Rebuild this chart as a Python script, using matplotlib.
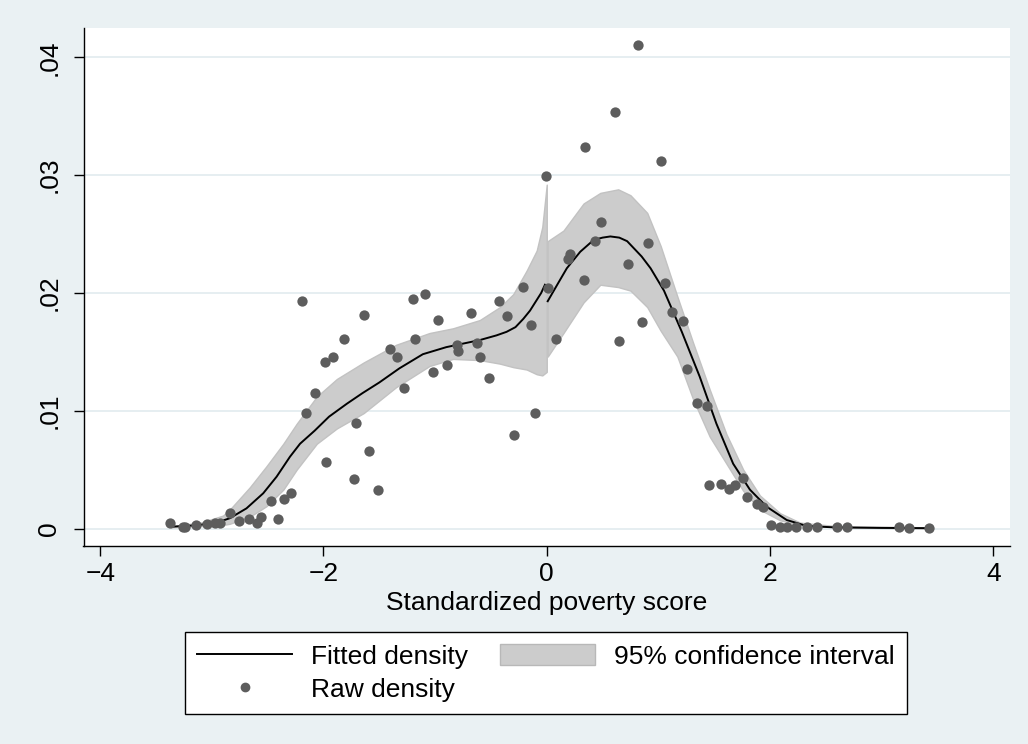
import numpy as np
import matplotlib
matplotlib.use("Agg")
import matplotlib.pyplot as plt
from matplotlib.lines import Line2D
from matplotlib.patches import Patch

plt.rcParams['font.family'] = ['Liberation Sans', 'DejaVu Sans']

# raw density points
raw_x = [-3.371, -3.258, -3.243, -3.138, -3.048, -2.974, -2.929, -2.839, -2.756, -2.666,
         -2.595, -2.561, -2.474, -2.412, -2.353, -2.292, -2.197, -2.158, -2.078, -1.979,
         -1.988, -1.919, -1.817, -1.725, -1.710, -1.635, -1.590, -1.510, -1.405, -1.345,
         -1.277, -1.196, -1.181, -1.091, -1.022, -0.978, -0.891, -0.807, -0.793, -0.679,
         -0.622, -0.598, -0.518, -0.425, -0.354, -0.294, -0.210, -0.144, -0.105, -0.007,
         0.0085, 0.083, 0.193, 0.208, 0.334, 0.346, 0.432, 0.483, 0.615, 0.645,
         0.731, 0.821, 0.854, 0.905, 1.021, 1.060, 1.120, 1.224, 1.254, 1.344,
         1.439, 1.454, 1.559, 1.636, 1.687, 1.756, 1.798, 1.887, 1.935, 2.007,
         2.091, 2.151, 2.234, 2.330, 2.420, 2.604, 2.694, 3.157, 3.247, 3.426]
raw_y = [0.00044, 0.00015, 0.00010, 0.00030, 0.00038, 0.00044, 0.00049, 0.00129, 0.00066, 0.00078,
         0.00044, 0.00095, 0.00233, 0.00078, 0.00248, 0.00304, 0.01931, 0.00978, 0.01148, 0.00567,
         0.01416, 0.01453, 0.01606, 0.00418, 0.00893, 0.01815, 0.00658, 0.00327, 0.01521, 0.01453,
         0.01190, 0.01948, 0.01606, 0.01988, 0.01329, 0.01767, 0.01390, 0.01558, 0.01507, 0.01832,
         0.01572, 0.01453, 0.01275, 0.01934, 0.01804, 0.00794, 0.02048, 0.01725, 0.00983, 0.02992,
         0.02044, 0.01606, 0.02285, 0.02330, 0.02110, 0.03241, 0.02441, 0.02605, 0.03538, 0.01592,
         0.02245, 0.04105, 0.01753, 0.02426, 0.03120, 0.02087, 0.01840, 0.01761, 0.01351, 0.01063,
         0.01043, 0.00369, 0.00378, 0.00333, 0.00369, 0.00426, 0.00265, 0.00208, 0.00180, 0.00033,
         0.00012, 0.00012, 0.00010, 0.00010, 0.00010, 0.00010, 0.00012, 0.00010, 0.00008, 0.00008]

# fitted density, left and right of the cutoff
fit_lx = [-3.37, -3.14, -2.96, -2.84, -2.69, -2.54, -2.42, -2.30, -2.21, -2.08, -1.95,
          -1.79, -1.65, -1.50, -1.32, -1.11, -0.90, -0.75, -0.60, -0.45, -0.36, -0.28, -0.21,
          -0.15, -0.09, -0.05, -0.016]
fit_ly = [0.00015, 0.00027, 0.00049, 0.00087, 0.00171, 0.00299, 0.0044, 0.0061, 0.0072, 0.0083, 0.0095,
          0.0106, 0.0115, 0.0124, 0.0136, 0.0148, 0.0154, 0.0157, 0.0160, 0.0164, 0.0167, 0.0171, 0.0178,
          0.0185, 0.0194, 0.0200, 0.0207]
fit_rx = [0.0085, 0.10, 0.18, 0.30, 0.42, 0.50, 0.57, 0.65, 0.72, 0.85, 0.93, 1.05, 1.21, 1.37,
          1.52, 1.67, 1.82, 1.97, 2.15, 2.33, 2.57, 3.00, 3.43]
fit_ry = [0.0193, 0.0208, 0.0221, 0.0235, 0.0245, 0.0247, 0.0248, 0.0247, 0.0244, 0.0231, 0.0221, 0.0202,
          0.0167, 0.0129, 0.0089, 0.0055, 0.0033, 0.00185, 0.00072, 0.00021, 0.0001, 0.00005, 0.00003]

# 95% confidence band
ci_lx = [-3.37, -3.10, -2.90, -2.84, -2.66, -2.51, -2.36, -2.24, -2.06, -1.88, -1.64,
         -1.35, -1.05, -0.84, -0.60, -0.42, -0.30, -0.18, -0.09, -0.04, 0.0]
ci_lhi = [0.0002, 0.0005, 0.0011, 0.0016, 0.0035, 0.0053, 0.0072, 0.0089, 0.0112, 0.0127, 0.0141,
          0.0156, 0.0166, 0.0170, 0.0177, 0.0188, 0.0199, 0.0219, 0.0236, 0.0256, 0.0292]
ci_llo = [0.0001, 0.0002, 0.0003, 0.0004, 0.0010, 0.0019, 0.0033, 0.0050, 0.0072, 0.0085, 0.0098,
          0.0120, 0.0138, 0.0144, 0.0143, 0.0140, 0.0137, 0.0135, 0.0131, 0.0130, 0.0133]
ci_rx = [0.0085, 0.15, 0.33, 0.48, 0.64, 0.75, 0.90, 1.02, 1.17, 1.31, 1.46, 1.61,
         1.76, 1.91, 2.09, 2.27, 2.60, 3.43]
ci_rhi = [0.0244, 0.0253, 0.0276, 0.0285, 0.0288, 0.0283, 0.0268, 0.0240, 0.0197, 0.0158, 0.0118, 0.0080,
          0.0050, 0.0028, 0.0013, 0.0005, 0.0002, 0.0001]
ci_rlo = [0.0146, 0.0166, 0.0192, 0.0207, 0.0205, 0.0202, 0.0188, 0.0168, 0.0146, 0.0110, 0.0078, 0.0055,
          0.0032, 0.0016, 0.0007, 0.0003, 0.0001, 0.0]

xticks = [-4, -2, 0, 2, 4]
xtick_labels = ['\u22124', '\u22122', '0', '2', '4']
yticks = [0, 0.01, 0.02, 0.03, 0.04]
ytick_labels = ['0', '.01', '.02', '.03', '.04']

bg = '#eaf1f3'
band_col = '#cccccc'
dot_col = '#5d5d5d'
fs = 19

fig = plt.figure(figsize=(10.28, 7.44), dpi=100, facecolor=bg)
ax = fig.add_axes([83.5 / 1028, (744 - 545.7) / 744, (1010 - 83.5) / 1028, (545.7 - 28) / 744])
ax.set_facecolor('white')

ax.fill_between(ci_lx, ci_llo, ci_lhi, facecolor=band_col, edgecolor='#c2c2c2', linewidth=1, zorder=1)
ax.fill_between(ci_rx, ci_rlo, ci_rhi, facecolor=band_col, edgecolor='#c2c2c2', linewidth=1, zorder=1)
ax.plot(fit_lx, fit_ly, color='black', linewidth=1.4, zorder=3)
ax.plot(fit_rx, fit_ry, color='black', linewidth=1.4, zorder=3)
ax.scatter(raw_x, raw_y, s=55, color=dot_col, linewidths=0, zorder=4)

ax.set_xlim(-4.15, 4.15)
ax.set_ylim(-0.00146, 0.0425)
ax.set_xticks(xticks)
ax.set_xticklabels(xtick_labels)
ax.set_yticks(yticks)
ax.set_yticklabels(ytick_labels, rotation=90, va='center')
ax.tick_params(labelsize=fs, length=7, width=1, direction='out')
ax.tick_params(axis='x', pad=5)
ax.tick_params(axis='y', pad=9)
ax.grid(axis='y', color='#e4edf0', linewidth=1.3, zorder=0)
ax.set_axisbelow(True)
for side in ['top', 'right']:
    ax.spines[side].set_visible(False)
for side in ['left', 'bottom']:
    ax.spines[side].set_linewidth(1)
ax.set_xlabel('Standardized poverty score', fontsize=fs, labelpad=3)

handles = [Line2D([], [], color='black', linewidth=1.4),
           Line2D([], [], color=dot_col, marker='o', linestyle='none', markersize=6),
           Patch(facecolor=band_col, edgecolor='#b8b8b8')]
labels = ['Fitted density', 'Raw density', '95% confidence interval']
leg = fig.legend(handles, labels, ncol=2, loc='center', bbox_to_anchor=(546 / 1028, 1 - 673 / 744),
                 fontsize=fs, frameon=True, fancybox=False, edgecolor='black', framealpha=1,
                 handlelength=3.6, handleheight=0.85, handletextpad=0.72, columnspacing=1.2,
                 borderpad=0.45, borderaxespad=0, labelspacing=0.33)
leg.get_frame().set_linewidth(1)

fig.savefig('out.png', dpi=100, facecolor=bg)
